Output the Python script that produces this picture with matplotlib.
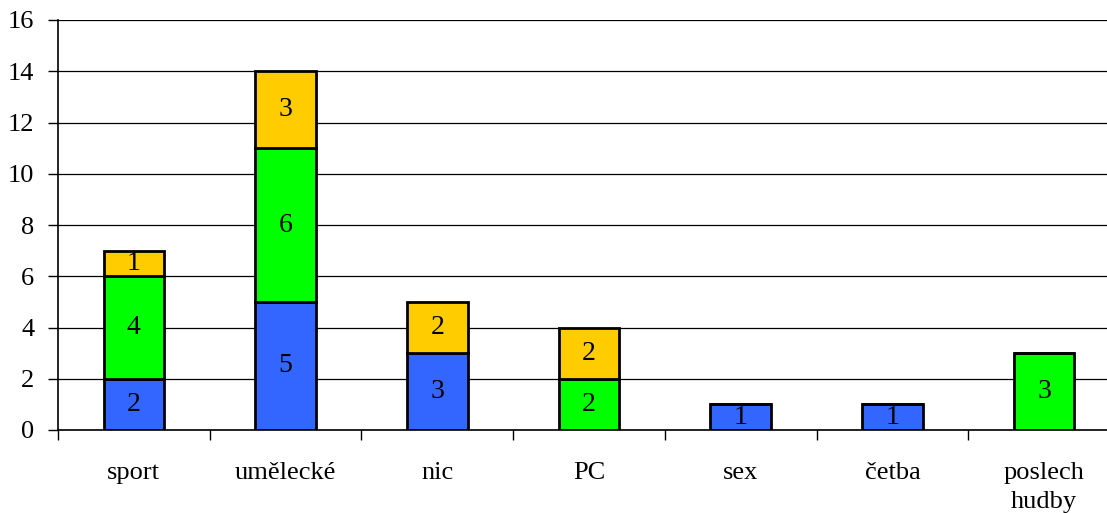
import numpy as np
import matplotlib.pyplot as plt

# volnočasové aktivity, počty odpovědí po skupinách
categories = ["sport", "umělecké", "nic", "PC", "sex", "četba", "poslech\nhudby"]
blue_vals = [2, 5, 3, 0, 1, 1, 0]
green_vals = [4, 6, 0, 2, 0, 0, 3]
yellow_vals = [1, 3, 2, 2, 0, 0, 0]

colors = ["#3366FF", "#00FF00", "#FFCC00"]

plt.rcParams["font.family"] = ["Liberation Serif", "DejaVu Serif"]

fig = plt.figure(figsize=(11.07, 5.13), dpi=100)
ax = fig.add_axes([58 / 1107, 83 / 513, 1062 / 1107, 410 / 513])

x = np.arange(len(categories))
bottom = np.zeros(len(categories))
for vals, col in zip([blue_vals, green_vals, yellow_vals], colors):
    vals = np.array(vals, dtype=float)
    bars = ax.bar(x, vals, width=0.4, bottom=bottom, color=col,
                  edgecolor="black", linewidth=2, zorder=3)
    for b, v, b0 in zip(bars, vals, bottom):
        if v > 0:
            ax.text(b.get_x() + b.get_width() / 2, b0 + v / 2, f"{int(v)}",
                    ha="center", va="center", fontsize=20, zorder=4)
    bottom += vals

ax.set_xlim(-0.5, len(categories) - 0.5)
ax.set_ylim(0, 16)
ax.set_yticks(range(0, 17, 2))
ax.yaxis.grid(True, color="black", linewidth=0.9, zorder=0)
ax.set_axisbelow(True)

# popisky kategorií mezi značkami na ose x
ax.set_xticks(x - 0.5, minor=False)
ax.set_xticklabels([])
ax.set_xticks(x, minor=True)
ax.set_xticklabels(categories, minor=True, fontsize=19, va="top",
                   linespacing=1.4)
ax.tick_params(axis="x", which="minor", length=0, pad=23)
ax.tick_params(axis="x", which="major", length=7, width=1, direction="out")
ax.tick_params(axis="y", length=7, width=1, direction="out", labelsize=19,
               pad=10)

for s in ["top", "right"]:
    ax.spines[s].set_visible(False)
ax.spines["left"].set_linewidth(1.2)
ax.spines["bottom"].set_linewidth(1.2)

fig.savefig("out.png", dpi=100)
